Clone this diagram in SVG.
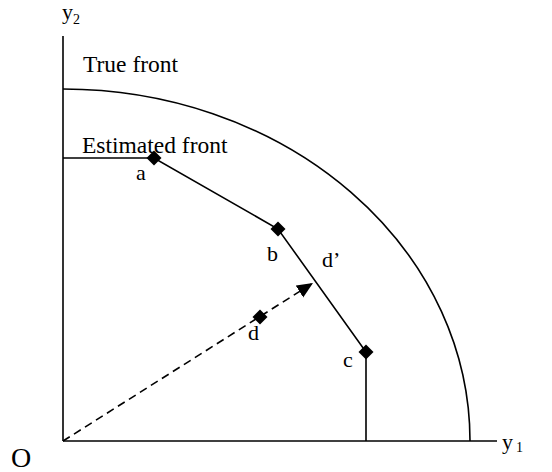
<svg xmlns="http://www.w3.org/2000/svg" width="552" height="472" viewBox="0 0 552 472">
<style>
.t{font-family:"Liberation Serif","Times New Roman",serif;font-size:22px;fill:#000}
.h{font-size:23.5px}
.o{font-size:28px}
.l{stroke:#000;stroke-width:1.6;fill:none}
.dm{fill:#000}
</style>
<defs>
<marker id="ah" markerWidth="18" markerHeight="16" refX="16" refY="7" orient="auto" markerUnits="userSpaceOnUse">
<path d="M0,0 L16,7 L0,14 Z" fill="#000"/>
</marker>
<path id="dia" d="M0,-7.5 L7.5,0 L0,7.5 L-7.5,0 Z"/>
</defs>
<rect width="552" height="472" fill="#fff"/>
<g id="axes">
<line class="l" x1="63" y1="36" x2="63" y2="441"/>
<line class="l" x1="63" y1="441" x2="497" y2="441"/>
<text class="t" x="62" y="19">y<tspan font-size="14" dy="5">2</tspan></text>
<text class="t" x="502" y="449">y<tspan font-size="14" dx="3" dy="3">1</tspan></text>
<text class="t o" x="11" y="467">O</text>
</g>
<g id="true-front">
<path class="l" d="M63,89 A407,352 0 0 1 470,441"/>
<text class="t h" x="83" y="72">True front</text>
</g>
<g id="connectors">
<path class="l" d="M63,158 L154,158 L278,229 L366,352 L366,441"/>
<line class="l" x1="63" y1="441" x2="313" y2="283" stroke-dasharray="8,5" marker-end="url(#ah)"/>
</g>
<g id="estimated-front">
<text class="t h" x="82" y="153">Estimated front</text>
</g>
<g id="node-a"><use href="#dia" x="154" y="158" class="dm"/><text class="t" x="136" y="180">a</text></g>
<g id="node-b"><use href="#dia" x="278" y="229" class="dm"/><text class="t" x="267" y="261">b</text></g>
<g id="node-c"><use href="#dia" x="366" y="352" class="dm"/><text class="t" x="343" y="367">c</text></g>
<g id="node-d"><use href="#dia" x="260" y="317" class="dm"/><text class="t" x="248" y="340">d</text></g>
<g id="label-dprime"><text class="t" x="322" y="267">d’</text></g>
</svg>
